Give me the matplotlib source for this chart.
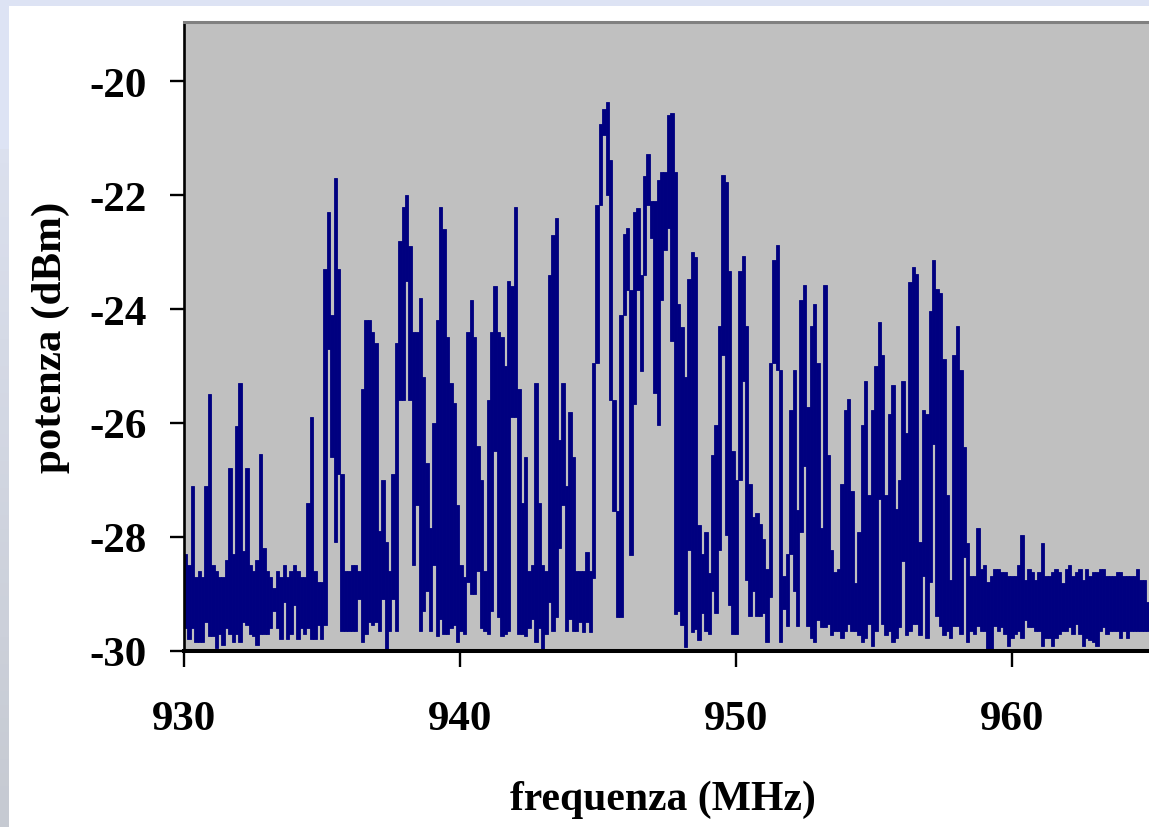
import numpy as np
import matplotlib
matplotlib.use('Agg')
import matplotlib.pyplot as plt
from matplotlib.patches import Rectangle

plt.rcParams['font.family'] = ['Liberation Serif', 'DejaVu Serif']
plt.rcParams['font.weight'] = 'bold'

# spectrum: one column every f_step MHz, top and bottom of each column
f_start = 930.0
f_step = 0.1232

pot_max = [
    -28.3, -28.5, -27.1, -28.7, -28.6, -28.7, -27.1, -25.5, -28.5, -28.6,
    -28.7, -28.7, -28.4, -26.8, -28.3, -26.05, -25.3, -28.25, -26.8, -28.5,
    -28.6, -28.4, -26.55, -28.2, -28.6, -28.7, -28.9, -28.6, -28.7, -28.5,
    -28.7, -28.6, -28.5, -28.6, -28.7, -28.7, -27.4, -25.9, -28.6, -28.8,
    -28.8, -23.3, -22.3, -24.1, -21.7, -23.3, -26.9, -28.6, -28.6, -28.5,
    -28.5, -28.6, -25.4, -24.2, -24.2, -24.4, -24.6, -27.9, -27.0, -28.1,
    -28.6, -26.9, -24.6, -22.8, -22.2, -22.0, -22.9, -24.4, -24.4, -23.8,
    -25.2, -26.7, -27.85, -26.0, -24.2, -22.2, -22.6, -24.5, -25.3, -25.65,
    -27.45, -28.5, -28.7, -24.4, -23.85, -24.5, -26.4, -27.0, -28.6, -25.6,
    -24.4, -23.6, -24.4, -24.5, -25.0, -23.5, -23.6, -22.2, -25.4, -27.4,
    -26.6, -28.6, -28.5, -25.3, -27.4, -28.5, -28.6, -23.4, -22.7, -22.4,
    -26.3, -25.3, -27.1, -25.8, -26.6, -28.6, -28.6, -28.6, -28.26, -28.6,
    -24.95, -22.18, -20.75, -20.49, -20.37, -21.39, -25.6, -27.55, -24.1, -22.69,
    -22.57, -23.66, -22.3, -22.23, -23.4, -21.66, -21.27, -22.11, -22.11, -21.73,
    -21.59, -21.59, -20.6, -20.56, -21.59, -23.92, -24.31, -25.2, -23.47, -23.0,
    -23.08, -27.79, -28.3, -27.91, -28.63, -26.57, -26.04, -24.3, -21.65, -21.77,
    -23.33, -26.49, -27.0, -23.33, -23.07, -24.3, -27.07, -27.65, -27.58, -27.78,
    -28.04, -28.57, -24.95, -23.14, -22.88, -25.07, -28.68, -28.3, -25.77, -25.07,
    -27.53, -23.85, -23.58, -25.72, -24.3, -23.92, -24.95, -27.85, -23.58, -26.57,
    -28.23, -28.61, -28.57, -27.07, -25.78, -25.58, -27.19, -28.81, -27.91, -26.04,
    -25.26, -27.27, -25.78, -25.0, -24.22, -24.81, -27.27, -25.85, -25.34, -27.52,
    -27.0, -25.26, -26.18, -23.52, -23.27, -23.39, -28.1, -25.78, -25.85, -24.03,
    -23.14, -23.65, -23.72, -24.88, -27.27, -28.76, -24.81, -24.3, -25.07, -26.43,
    -28.11, -28.68, -28.68, -27.85, -28.57, -28.5, -28.8, -28.68, -28.57, -28.57,
    -28.62, -28.62, -28.68, -28.68, -28.68, -28.5, -27.97, -28.75, -28.57, -28.62,
    -28.75, -28.62, -28.11, -28.68, -28.68, -28.62, -28.57, -28.62, -28.81, -28.57,
    -28.5, -28.68, -28.62, -28.57, -28.75, -28.57, -28.68, -28.62, -28.62, -28.57,
    -28.57, -28.68, -28.68, -28.68, -28.62, -28.62, -28.68, -28.68, -28.68, -28.68,
    -28.57, -28.75, -28.75, -29.15,
]

pot_min = [
    -29.6, -29.8, -29.6, -29.85, -29.85, -29.85, -29.5, -29.75, -29.75, -29.95,
    -29.7, -29.9, -29.6, -29.7, -29.85, -29.7, -29.85, -29.5, -29.55, -29.7,
    -29.75, -29.9, -29.7, -29.7, -29.7, -29.6, -29.3, -29.6, -29.8, -29.15,
    -29.8, -29.7, -29.2, -29.8, -29.6, -29.7, -29.6, -29.8, -29.8, -29.55,
    -29.8, -29.55, -24.7, -26.6, -28.1, -26.9, -29.65, -29.65, -29.65, -29.65,
    -29.65, -29.1, -29.85, -29.7, -29.5, -29.55, -29.5, -29.65, -29.1, -29.97,
    -29.65, -29.1, -29.65, -25.6, -25.6, -23.5, -25.6, -28.5, -27.45, -29.65,
    -29.3, -28.95, -29.65, -28.5, -29.75, -29.45, -29.7, -29.7, -29.6, -29.55,
    -29.84, -29.65, -29.7, -28.8, -29.0, -29.0, -28.6, -29.6, -29.65, -29.7,
    -29.3, -26.5, -29.4, -29.75, -29.7, -29.65, -25.9, -25.9, -29.7, -29.7,
    -29.75, -29.6, -29.45, -29.84, -29.6, -29.97, -29.7, -29.15, -29.65, -29.4,
    -28.2, -27.45, -29.65, -29.45, -29.65, -29.65, -29.5, -29.68, -29.5, -29.68,
    -28.72, -24.95, -22.18, -20.94, -21.99, -25.6, -27.55, -29.41, -29.41, -24.1,
    -23.66, -28.32, -25.66, -23.66, -25.08, -23.4, -22.18, -22.76, -25.47, -26.04,
    -23.84, -22.96, -22.57, -24.57, -29.36, -29.3, -29.55, -29.94, -28.24, -29.68,
    -29.62, -29.81, -29.34, -29.65, -29.71, -28.95, -29.33, -28.23, -24.81, -27.97,
    -29.2, -29.71, -29.71, -27.0, -25.26, -28.75, -29.39, -28.95, -29.39, -29.39,
    -29.34, -29.84, -29.06, -24.95, -25.07, -29.84, -29.27, -29.57, -28.3, -28.95,
    -29.57, -27.91, -26.75, -29.57, -29.77, -29.84, -29.46, -29.58, -29.58, -29.53,
    -29.72, -29.65, -29.65, -29.78, -29.65, -29.53, -29.65, -29.65, -29.72, -29.84,
    -29.78, -29.53, -29.91, -29.65, -27.33, -29.53, -29.72, -29.65, -29.84, -29.78,
    -29.58, -28.42, -29.72, -29.65, -29.53, -29.53, -29.72, -28.68, -29.78, -28.8,
    -26.37, -29.39, -29.57, -29.73, -29.65, -29.77, -29.57, -29.57, -29.71, -28.36,
    -29.84, -29.65, -29.71, -29.57, -29.65, -29.65, -29.97, -29.97, -29.57, -29.65,
    -29.59, -29.71, -29.91, -29.77, -29.71, -29.65, -29.77, -29.46, -29.59, -29.59,
    -29.65, -29.65, -29.91, -29.77, -29.77, -29.91, -29.77, -29.71, -29.65, -29.65,
    -29.59, -29.71, -29.53, -29.71, -29.91, -29.77, -29.82, -29.85, -29.91, -29.65,
    -29.59, -29.71, -29.65, -29.65, -29.65, -29.77, -29.65, -29.77, -29.65, -29.65,
    -29.65, -29.65, -29.65, -29.65,
]

x_ticks = [930, 940, 950, 960]
y_ticks = [-30, -28, -26, -24, -22, -20]

pot_max = np.array(pot_max)
pot_min = np.array(pot_min)
freq = f_start + f_step * (np.arange(len(pot_max)) + 0.5)

W, H = 1149, 828
fig = plt.figure(figsize=(W / 100, H / 100), dpi=100)
fig.patch.set_facecolor('#dde3f4')

# white sheet behind the chart, with a thin bluish frame top and left
fig.add_artist(Rectangle((9 / W, 0), 1, (H - 7) / H, transform=fig.transFigure,
                         facecolor='white', edgecolor='none', zorder=0))
strip = fig.add_axes([0, 0, 9 / W, (H - 150) / H])
strip.imshow(np.linspace(0, 1, 50)[:, None], aspect='auto',
             cmap=matplotlib.colors.LinearSegmentedColormap.from_list('s', ['#dbe0ee', '#c6cad2']))
strip.axis('off')

ax = fig.add_axes([184 / W, (H - 651.7) / H, (W - 184) / W, (651.7 - 23) / H])
ax.set_facecolor('#c0c0c0')

ax.bar(freq, pot_max - pot_min, bottom=pot_min, width=f_step,
       color='#000080', edgecolor='#000080', linewidth=0.6, zorder=2)

ax.set_xlim(930, 930 + (W - 184) / 27.6)
ax.set_ylim(-30, -18.96)
ax.set_xticks(x_ticks)
ax.set_yticks(y_ticks)
ax.set_xticklabels([str(t) for t in x_ticks])
ax.set_yticklabels([str(t) for t in y_ticks])

ax.tick_params(axis='y', direction='out', length=10, width=1.7, pad=17,
               labelsize=31, colors='black')
ax.tick_params(axis='x', direction='out', length=11.5, width=1.7, pad=24,
               labelsize=31, colors='black')
for lab in ax.get_xticklabels() + ax.get_yticklabels():
    lab.set_fontweight('bold')

ax.spines['left'].set_linewidth(1.9)
ax.spines['bottom'].set_linewidth(2.9)
ax.spines['top'].set_linewidth(2.2)
ax.spines['top'].set_color('#808080')
ax.spines['right'].set_visible(False)
for s in ax.spines.values():
    s.set_zorder(3)

ax.set_ylabel('potenza (dBm)', fontsize=31, fontweight='bold', va='center')
ax.yaxis.set_label_coords((51 - 184) / 965, 0.5)
ax.set_xlabel('frequenza (MHz)', fontsize=30, fontweight='bold', va='center')
ax.xaxis.set_label_coords((663 - 184) / 965, (651.7 - 800) / 628.7)

fig.savefig('out.png', dpi=100, facecolor=fig.get_facecolor())
